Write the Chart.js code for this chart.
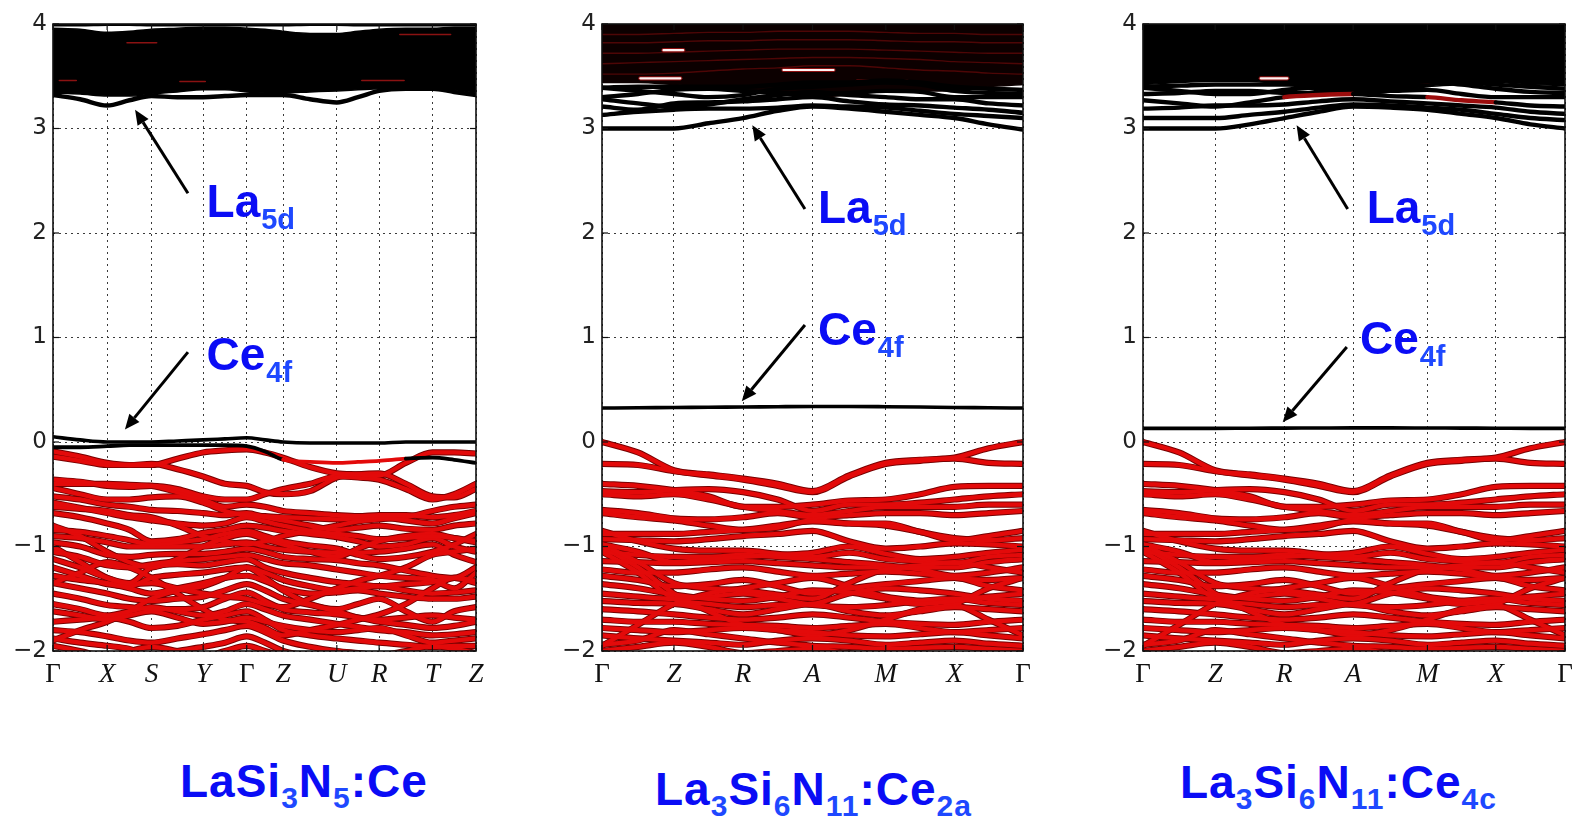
<!DOCTYPE html>
<html>
<head>
<meta charset="utf-8">
<title>Band structures of Ce-doped La–Si–N</title>
<script src="https://cdn.jsdelivr.net/npm/chart.js@4/dist/chart.umd.min.js"></script>
<style>
  html, body { margin: 0; padding: 0; background: #fff; }
  body { width: 1572px; height: 818px; overflow: hidden; position: relative;
         font-family: "Liberation Sans", Arial, sans-serif; }
  .panel { position: absolute; top: 0; }
  .title { position: absolute; color: #0a0cf5; font-weight: bold; font-size: 46px;
           line-height: 46px; letter-spacing: 1px; white-space: nowrap; }
  .title sub { font-size: 30px; vertical-align: -11px; line-height: 0; color: #1e48ff; }
</style>
</head>
<body>
<div class="panel" id="w1"><canvas id="c1"></canvas></div>
<div class="panel" id="w2"><canvas id="c2"></canvas></div>
<div class="panel" id="w3"><canvas id="c3"></canvas></div>

<div class="title" style="left:180px; top:758px;">LaSi<sub>3</sub>N<sub>5</sub>:Ce</div>
<div class="title" style="left:655px; top:766px;">La<sub>3</sub>Si<sub>6</sub>N<sub>11</sub>:Ce<sub>2a</sub></div>
<div class="title" style="left:1180px; top:759px;">La<sub>3</sub>Si<sub>6</sub>N<sub>11</sub>:Ce<sub>4c</sub></div>

<script>
// ---------- k-paths (path length scaled to 0..100) ----------
const kLabels1 = ['Γ', 'X', 'S', 'Y', 'Γ', 'Z', 'U', 'R', 'T', 'Z'];
const kPos1    = [0, 12.8, 23.3, 35.5, 45.8, 54.4, 67.1, 77.1, 89.7, 100];
const kGrid1   = [0, 6.4, 12.8, 18.05, 23.3, 29.4, 35.5, 40.65, 45.8, 50.1, 54.4,
                  60.75, 67.1, 72.1, 77.1, 83.4, 89.7, 94.85, 100];

const kLabels2 = ['Γ', 'Z', 'R', 'A', 'M', 'X', 'Γ'];
const kPos2    = [0, 17.1, 33.5, 50, 67.4, 83.7, 100];
const kGrid2   = [0, 8.55, 17.1, 25.3, 33.5, 41.75, 50, 58.7, 67.4, 75.55, 83.7, 91.85, 100];

const kLabels3 = ['Γ', 'Z', 'R', 'A', 'M', 'X', 'Γ'];
const kPos3    = [0, 17.1, 33.5, 49.8, 67.4, 83.6, 100];
const kGrid3   = [0, 8.55, 17.1, 25.3, 33.5, 41.65, 49.8, 58.6, 67.4, 75.5, 83.6, 91.8, 100];

const energyTicks = [-2, -1, 0, 1, 2, 3, 4];

// ---------- LaSi3N5:Ce (eV, on kGrid1) ----------
const ce4f1 = [0.05, 0.02, 0.0, 0.0, 0.0, 0.01, 0.02, 0.03, 0.04, 0.02, 0.0,
               -0.01, -0.01, -0.01, -0.01, 0.0, 0.0, 0.0, 0.0];
const vbTop1 = [-0.05, -0.05, -0.04, -0.03, -0.03, -0.03, -0.03, -0.03, -0.04, -0.09,
                -0.17, -0.19, -0.20, -0.19, -0.18, -0.16, -0.15, -0.17, -0.20];
const vbTop1RedSegs = [0,0,0,0,0,0,0,0,0,0,1,1,1,1,1,0,0,0];   // host-like stretch of the top band
const vb1 = [
  [-0.09,-0.14,-0.20,-0.22,-0.22,-0.16,-0.10,-0.08,-0.07,-0.10,-0.15,-0.24,-0.30,-0.31,-0.32,-0.20,-0.10,-0.10,-0.11],
  [-0.14,-0.18,-0.22,-0.22,-0.21,-0.26,-0.33,-0.40,-0.42,-0.48,-0.50,-0.47,-0.34,-0.31,-0.30,-0.40,-0.52,-0.53,-0.45],
  [-0.36,-0.38,-0.42,-0.43,-0.42,-0.45,-0.52,-0.55,-0.55,-0.50,-0.45,-0.40,-0.33,-0.34,-0.36,-0.45,-0.55,-0.50,-0.40],
  [-0.40,-0.40,-0.40,-0.41,-0.42,-0.48,-0.55,-0.62,-0.60,-0.62,-0.66,-0.68,-0.70,-0.71,-0.70,-0.70,-0.72,-0.70,-0.66],
  [-0.44,-0.50,-0.55,-0.55,-0.53,-0.52,-0.58,-0.66,-0.70,-0.71,-0.72,-0.73,-0.74,-0.73,-0.72,-0.75,-0.78,-0.73,-0.68],
  [-0.52,-0.55,-0.60,-0.62,-0.65,-0.66,-0.68,-0.70,-0.68,-0.72,-0.75,-0.80,-0.84,-0.82,-0.80,-0.83,-0.84,-0.80,-0.78],
  [-0.58,-0.63,-0.68,-0.72,-0.75,-0.78,-0.80,-0.78,-0.72,-0.76,-0.80,-0.85,-0.88,-0.90,-0.93,-0.92,-0.90,-0.92,-0.95],
  [-0.68,-0.72,-0.78,-0.84,-0.95,-0.93,-0.87,-0.84,-0.80,-0.82,-0.85,-0.88,-0.91,-0.95,-1.00,-0.98,-0.92,-1.00,-1.05],
  [-0.84,-0.86,-0.90,-0.94,-0.98,-0.96,-0.93,-0.88,-0.85,-0.90,-0.95,-0.99,-1.02,-1.08,-1.12,-1.10,-1.05,-0.98,-0.88],
  [-0.90,-0.92,-0.96,-1.00,-1.00,-1.00,-1.00,-0.98,-0.96,-1.00,-1.03,-1.05,-1.06,-1.06,-1.05,-1.02,-0.98,-1.08,-1.15],
  [-0.96,-1.00,-1.08,-1.10,-1.08,-1.07,-1.07,-1.05,-1.02,-1.05,-1.10,-1.12,-1.13,-1.16,-1.18,-1.23,-1.28,-1.30,-1.20],
  [-1.05,-1.10,-1.18,-1.20,-1.17,-1.14,-1.12,-1.10,-1.08,-1.12,-1.16,-1.18,-1.22,-1.25,-1.28,-1.30,-1.32,-1.40,-1.25],
  [-1.12,-1.20,-1.30,-1.35,-1.20,-1.17,-1.18,-1.15,-1.12,-1.20,-1.25,-1.30,-1.34,-1.36,-1.38,-1.36,-1.34,-1.30,-1.33],
  [-1.20,-1.28,-1.36,-1.38,-1.30,-1.27,-1.25,-1.22,-1.20,-1.25,-1.32,-1.38,-1.42,-1.40,-1.38,-1.42,-1.45,-1.44,-1.42],
  [-1.28,-1.32,-1.35,-1.40,-1.45,-1.40,-1.35,-1.30,-1.28,-1.33,-1.40,-1.45,-1.44,-1.42,-1.45,-1.48,-1.50,-1.50,-1.48],
  [-1.35,-1.40,-1.45,-1.50,-1.52,-1.50,-1.48,-1.42,-1.36,-1.42,-1.50,-1.56,-1.62,-1.68,-1.70,-1.68,-1.66,-1.68,-1.70],
  [-1.45,-1.50,-1.56,-1.58,-1.60,-1.60,-1.58,-1.50,-1.44,-1.52,-1.60,-1.63,-1.65,-1.68,-1.72,-1.75,-1.78,-1.76,-1.72],
  [-1.55,-1.60,-1.66,-1.62,-1.58,-1.62,-1.66,-1.62,-1.55,-1.60,-1.66,-1.70,-1.74,-1.77,-1.80,-1.82,-1.85,-1.84,-1.82],
  [-1.62,-1.66,-1.70,-1.66,-1.62,-1.68,-1.74,-1.72,-1.68,-1.72,-1.76,-1.80,-1.82,-1.80,-1.78,-1.85,-1.92,-1.90,-1.88],
  [-1.72,-1.70,-1.68,-1.72,-1.78,-1.76,-1.70,-1.66,-1.62,-1.70,-1.80,-1.85,-1.88,-1.90,-1.92,-1.94,-1.96,-1.95,-1.95],
  [-1.80,-1.82,-1.86,-1.90,-1.92,-1.88,-1.84,-1.80,-1.76,-1.82,-1.90,-1.96,-2.00,-2.02,-2.04,-2.00,-1.95,-1.98,-2.02],
  [-1.88,-1.92,-1.95,-1.98,-2.05,-2.00,-1.96,-1.92,-1.86,-1.92,-2.00,-2.05,-2.10,-2.10,-2.10,-2.10,-2.10,-2.10,-2.10],
  [-1.95,-2.00,-2.05,-2.00,-1.96,-2.00,-2.05,-2.00,-1.95,-2.00,-2.05,-2.10,-2.10,-2.10,-2.10,-2.10,-2.10,-2.10,-2.10],
  [-0.80,-0.90,-1.05,-1.15,-1.20,-1.12,-1.00,-0.92,-0.88,-0.93,-0.98,-1.05,-1.10,-1.02,-0.95,-0.90,-0.88,-0.92,-0.96],
  [-1.00,-1.15,-1.30,-1.36,-1.35,-1.40,-1.45,-1.48,-1.50,-1.55,-1.58,-1.50,-1.40,-1.33,-1.28,-1.20,-1.08,-1.05,-1.02],
  [-0.62,-0.64,-0.66,-0.70,-0.72,-0.80,-0.90,-0.95,-0.98,-0.95,-0.90,-0.85,-0.80,-0.76,-0.74,-0.72,-0.66,-0.62,-0.60],
  [-1.35,-1.25,-1.15,-1.20,-1.30,-1.45,-1.60,-1.70,-1.72,-1.78,-1.85,-1.80,-1.75,-1.70,-1.65,-1.55,-1.40,-1.30,-1.35],
  [-1.90,-1.80,-1.72,-1.62,-1.50,-1.42,-1.38,-1.30,-1.20,-1.30,-1.42,-1.55,-1.60,-1.55,-1.50,-1.62,-1.72,-1.62,-1.58]
];
const cbLow1   = [3.32, 3.28, 3.22, 3.27, 3.31, 3.30, 3.30, 3.31, 3.32, 3.32, 3.32,
                  3.28, 3.25, 3.30, 3.36, 3.38, 3.38, 3.35, 3.32];
const cbDenseLo1 = [3.34, 3.33, 3.31, 3.31, 3.33, 3.35, 3.37, 3.37, 3.35, 3.34, 3.34,
                    3.35, 3.36, 3.37, 3.38, 3.39, 3.39, 3.37, 3.34];
const cbDenseHi1 = [3.96, 3.95, 3.92, 3.93, 3.95, 3.96, 3.97, 3.97, 3.96, 3.95, 3.93,
                    3.91, 3.91, 3.93, 3.95, 3.96, 3.96, 3.97, 3.97];
const cbTop1   = [3.99, 3.99, 3.995, 3.995, 3.99, 3.99, 3.99, 3.99, 3.99, 3.99, 3.99,
                  3.995, 3.995, 3.99, 3.99, 3.99, 3.99, 3.99, 3.99];
// faint Ce-weighted streaks inside the conduction manifold: [k start, k end, energy]
const streaks1 = [[17.5, 24.5, 3.82], [1.5, 5.5, 3.46], [73.0, 83.0, 3.46], [82.0, 94.0, 3.90], [30.0, 36.0, 3.45]];

// ---------- La3Si6N11 host valence bands (shared by both Ce sites, on kGrid2 / kGrid3) ----------
const vbLa3Si6N11 = [
  [0.00,-0.10,-0.27,-0.31,-0.35,-0.40,-0.47,-0.32,-0.20,-0.17,-0.15,-0.06,0.00],
  [-0.21,-0.22,-0.28,-0.32,-0.36,-0.42,-0.48,-0.33,-0.21,-0.18,-0.16,-0.20,-0.21],
  [-0.40,-0.42,-0.46,-0.52,-0.62,-0.62,-0.60,-0.56,-0.55,-0.50,-0.43,-0.42,-0.42],
  [-0.47,-0.48,-0.46,-0.45,-0.48,-0.55,-0.66,-0.60,-0.60,-0.58,-0.55,-0.52,-0.50],
  [-0.50,-0.52,-0.50,-0.55,-0.62,-0.66,-0.70,-0.66,-0.62,-0.62,-0.62,-0.60,-0.60],
  [-0.65,-0.68,-0.73,-0.74,-0.72,-0.68,-0.72,-0.70,-0.68,-0.68,-0.70,-0.68,-0.66],
  [-0.68,-0.72,-0.75,-0.80,-0.84,-0.82,-0.75,-0.78,-0.80,-0.86,-0.94,-0.90,-0.85],
  [-0.88,-0.88,-0.88,-0.86,-0.84,-0.80,-0.76,-0.78,-0.78,-0.86,-0.92,-0.94,-0.92],
  [-0.93,-0.94,-0.95,-0.93,-0.90,-0.88,-0.85,-0.95,-1.02,-1.00,-0.97,-0.98,-1.00],
  [-0.98,-1.05,-1.15,-1.12,-1.10,-1.08,-1.06,-1.00,-1.07,-1.12,-1.10,-1.06,-1.03],
  [-0.98,-1.15,-1.35,-1.40,-1.42,-1.46,-1.50,-1.35,-1.22,-1.20,-1.20,-1.15,-1.12],
  [-1.05,-1.08,-1.10,-1.10,-1.08,-1.10,-1.12,-1.15,-1.18,-1.22,-1.28,-1.25,-1.20],
  [-1.14,-1.15,-1.16,-1.15,-1.14,-1.16,-1.18,-1.20,-1.20,-1.18,-1.15,-1.20,-1.25],
  [-1.22,-1.25,-1.25,-1.22,-1.20,-1.24,-1.28,-1.26,-1.24,-1.26,-1.30,-1.32,-1.30],
  [-1.28,-1.32,-1.38,-1.36,-1.32,-1.38,-1.45,-1.40,-1.36,-1.33,-1.30,-1.38,-1.42],
  [-1.36,-1.40,-1.46,-1.50,-1.52,-1.48,-1.42,-1.44,-1.50,-1.55,-1.52,-1.48,-1.45],
  [-1.45,-1.48,-1.50,-1.48,-1.45,-1.50,-1.56,-1.58,-1.56,-1.52,-1.50,-1.54,-1.56],
  [-1.52,-1.54,-1.55,-1.60,-1.65,-1.60,-1.55,-1.62,-1.66,-1.62,-1.58,-1.60,-1.62],
  [-1.60,-1.62,-1.65,-1.68,-1.70,-1.68,-1.65,-1.68,-1.72,-1.74,-1.75,-1.72,-1.70],
  [-1.70,-1.72,-1.72,-1.74,-1.75,-1.76,-1.78,-1.76,-1.74,-1.78,-1.82,-1.80,-1.78],
  [-1.78,-1.80,-1.82,-1.80,-1.78,-1.80,-1.82,-1.85,-1.86,-1.84,-1.82,-1.85,-1.88],
  [-1.85,-1.88,-1.90,-1.92,-1.94,-1.90,-1.88,-1.90,-1.94,-1.92,-1.90,-1.93,-1.95],
  [-1.94,-1.90,-1.80,-1.84,-1.88,-1.92,-1.95,-1.96,-1.98,-1.97,-1.96,-1.98,-2.00],
  [-2.00,-1.96,-1.92,-1.96,-2.02,-2.00,-1.98,-2.02,-2.05,-2.05,-2.05,-2.05,-2.05],
  [-1.05,-1.25,-1.50,-1.55,-1.58,-1.56,-1.55,-1.45,-1.40,-1.42,-1.45,-1.50,-1.52],
  [-0.85,-0.95,-1.02,-1.04,-1.04,-1.07,-1.10,-1.06,-1.12,-1.14,-1.16,-1.10,-1.08],
  [-1.00,-1.20,-1.45,-1.62,-1.75,-1.80,-1.85,-1.80,-1.70,-1.60,-1.55,-1.40,-1.30],
  [-1.95,-1.75,-1.55,-1.45,-1.40,-1.35,-1.30,-1.38,-1.48,-1.52,-1.55,-1.70,-1.85]
];

// ---------- La3Si6N11:Ce2a ----------
const ce4f2 = [0.325, 0.328, 0.33, 0.333, 0.335, 0.338, 0.34, 0.34, 0.338, 0.335, 0.33, 0.328, 0.325];
const cb2 = [
  [3.00,3.00,3.00,3.05,3.10,3.17,3.21,3.19,3.16,3.13,3.10,3.04,2.99],
  [3.13,3.16,3.18,3.19,3.19,3.20,3.22,3.21,3.20,3.17,3.14,3.12,3.10],
  [3.21,3.18,3.24,3.25,3.26,3.28,3.30,3.26,3.23,3.22,3.20,3.18,3.15],
  [3.28,3.24,3.21,3.23,3.28,3.32,3.35,3.32,3.30,3.28,3.28,3.24,3.22],
  [3.30,3.33,3.37,3.38,3.36,3.34,3.33,3.34,3.36,3.35,3.30,3.30,3.30],
  [3.39,3.36,3.33,3.30,3.32,3.38,3.40,3.42,3.44,3.42,3.36,3.34,3.33],
  [3.39,3.40,3.40,3.40,3.40,3.42,3.44,3.44,3.46,3.44,3.40,3.38,3.37]
];
const cbDenseLo2 = [3.44, 3.44, 3.42, 3.40, 3.38, 3.33, 3.30, 3.32, 3.36, 3.36, 3.36, 3.40, 3.42];
const cbStreak2 = [
  [3.52,3.52,3.53,3.55,3.57,3.58,3.60,3.60,3.58,3.56,3.55,3.53,3.52],
  [3.62,3.63,3.64,3.65,3.66,3.67,3.68,3.68,3.67,3.66,3.64,3.63,3.62],
  [3.72,3.72,3.73,3.74,3.75,3.76,3.76,3.76,3.75,3.74,3.73,3.72,3.72],
  [3.82,3.82,3.83,3.84,3.84,3.85,3.85,3.85,3.84,3.83,3.83,3.82,3.82],
  [3.90,3.90,3.91,3.92,3.92,3.93,3.93,3.93,3.92,3.91,3.91,3.90,3.90]
];
// open gaps inside the dense conduction manifold: [k start, k end, energy]
const gaps2 = [[14.6, 19.3, 3.75], [9.1, 18.6, 3.48], [43.1, 55.0, 3.56], [60.6, 72.5, 3.45]];

// ---------- La3Si6N11:Ce4c ----------
const ce4f3 = [0.13, 0.13, 0.13, 0.132, 0.133, 0.134, 0.135, 0.135, 0.134, 0.133, 0.132, 0.13, 0.13];
const cb3 = [
  [3.00,3.00,3.00,3.04,3.10,3.16,3.21,3.20,3.18,3.14,3.10,3.04,3.00],
  [3.10,3.10,3.10,3.13,3.16,3.20,3.23,3.22,3.20,3.18,3.14,3.10,3.08],
  [3.19,3.20,3.22,3.22,3.23,3.26,3.28,3.26,3.24,3.22,3.20,3.16,3.14],
  [3.27,3.24,3.21,3.25,3.30,3.32,3.33,3.31,3.30,3.27,3.25,3.22,3.21],
  [3.33,3.34,3.36,3.36,3.34,3.34,3.35,3.36,3.37,3.33,3.30,3.30,3.30],
  [3.39,3.36,3.33,3.33,3.37,3.40,3.42,3.43,3.45,3.42,3.38,3.35,3.34],
  [3.40,3.41,3.42,3.42,3.42,3.43,3.45,3.46,3.48,3.45,3.42,3.40,3.38]
];
const cbRedSegs3 = [0, 0, 0, 0, 1, 1, 0, 0, 1, 1, 0, 0];   // Ce-weighted stretches of the 4th band
const cbDenseLo3 = [3.42, 3.44, 3.45, 3.45, 3.42, 3.36, 3.32, 3.35, 3.40, 3.42, 3.44, 3.42, 3.41];
const gaps3 = [[62.5, 72.7, 3.45], [27.9, 34.2, 3.48]];

// ---------- drawing helpers ----------
const RED = '#e30a0a', RED_EDGE = '#780000';

function pts(grid, arr) {
  return arr.map((e, i) => ({ x: grid[i], y: e }));
}

function line(data, color, width, order, extra) {
  return Object.assign({ data, borderColor: color, borderWidth: width, order,
                         fill: false, clip: 0, pointRadius: 0 }, extra || {});
}

function valenceSets(grid, bands) {
  const out = [];
  bands.forEach(b => out.push(line(pts(grid, b), RED_EDGE, 6.2, 7)));
  bands.forEach(b => out.push(line(pts(grid, b), RED, 4.3, 6)));
  return out;
}

function gapSets(gaps) {
  const out = [];
  gaps.forEach(g => {
    const d = [{ x: g[0], y: g[2] }, { x: g[1], y: g[2] }];
    out.push(line(d, '#8c1010', 4.2, 8.5));
    out.push(line(d, '#fff2f2', 2.2, 8));
  });
  return out;
}

function streakSets(streaks) {
  return streaks.map(g => line([{ x: g[0], y: g[2] }, { x: g[1], y: g[2] }], '#8a1212', 1.6, 8));
}

function drawArrow(ctx, x1, y1, x2, y2) {
  const a = Math.atan2(y2 - y1, x2 - x1), hl = 15, hw = 6.5;
  const bx = x2 - hl * Math.cos(a), by = y2 - hl * Math.sin(a);
  ctx.strokeStyle = '#000'; ctx.fillStyle = '#000'; ctx.lineWidth = 3;
  ctx.beginPath(); ctx.moveTo(x1, y1); ctx.lineTo(bx, by); ctx.stroke();
  ctx.beginPath();
  ctx.moveTo(x2, y2);
  ctx.lineTo(bx - hw * Math.sin(a), by + hw * Math.cos(a));
  ctx.lineTo(bx + hw * Math.sin(a), by - hw * Math.cos(a));
  ctx.closePath(); ctx.fill();
}

// frame, inward ticks and the orbital annotations
const framePlugin = {
  id: 'bandFrame',
  afterDatasetsDraw(chart, args, opts) {
    const { ctx, chartArea: a } = chart;
    const xs = chart.scales.x, ys = chart.scales.y;
    ctx.save();
    ctx.strokeStyle = '#111'; ctx.lineWidth = 1.2;
    const seg = (x1, y1, x2, y2) => { ctx.beginPath(); ctx.moveTo(x1, y1); ctx.lineTo(x2, y2); ctx.stroke(); };
    xs.ticks.forEach(t => {
      const px = xs.getPixelForValue(t.value);
      seg(px, a.top, px, a.top + 6); seg(px, a.bottom, px, a.bottom - 6);
    });
    ys.ticks.forEach(t => {
      const py = ys.getPixelForValue(t.value);
      seg(a.left, py, a.left + 6, py); seg(a.right, py, a.right - 6, py);
    });
    ctx.lineWidth = 1.6; ctx.strokeStyle = '#111';
    ctx.strokeRect(a.left, a.top, a.right - a.left, a.bottom - a.top);

    (opts.arrows || []).forEach(r => drawArrow(ctx,
      xs.getPixelForValue(r[0]), ys.getPixelForValue(r[1]),
      xs.getPixelForValue(r[2]), ys.getPixelForValue(r[3])));

    (opts.labels || []).forEach(l => {
      const px = xs.getPixelForValue(l.k), py = ys.getPixelForValue(l.e);
      ctx.textBaseline = 'alphabetic'; ctx.textAlign = 'left';
      ctx.font = 'bold 46px "Liberation Sans", Arial, sans-serif';
      ctx.fillStyle = '#0a0cf5';
      ctx.fillText(l.main, px, py);
      const w = ctx.measureText(l.main).width;
      ctx.font = 'bold 29px "Liberation Sans", Arial, sans-serif';
      ctx.fillStyle = '#1e48ff';
      ctx.fillText(l.sub, px + w + 1, py + 12);
    });
    ctx.restore();
  }
};

function makePanel(wrapId, canvasId, rect, kPos, kLabels, datasets, annot) {
  const axisW = 56, rightPad = 24, H = 700, xAxisH = 44;
  const wrap = document.getElementById(wrapId);
  const cv = document.getElementById(canvasId);
  const W = axisW + (rect.r - rect.l) + rightPad;
  cv.width = W; cv.height = H;
  cv.style.width = W + 'px'; cv.style.height = H + 'px';
  wrap.style.left = (rect.l - axisW) + 'px';
  wrap.style.width = W + 'px'; wrap.style.height = H + 'px';

  new Chart(cv, {
    type: 'line',
    data: { datasets },
    plugins: [framePlugin],
    options: {
      responsive: false, animation: false, devicePixelRatio: 1,
      layout: { padding: { left: 0, right: rightPad, top: rect.t, bottom: H - rect.b - xAxisH } },
      plugins: { legend: { display: false }, tooltip: { enabled: false }, bandFrame: annot },
      elements: { point: { radius: 0 },
                  line: { cubicInterpolationMode: 'monotone', borderCapStyle: 'round', borderJoinStyle: 'round' } },
      events: [],
      scales: {
        x: {
          type: 'linear', min: 0, max: 100,
          afterBuildTicks: s => { s.ticks = kPos.map(v => ({ value: v })); },
          afterFit: s => { s.height = xAxisH; },
          ticks: {
            autoSkip: false, maxRotation: 0, padding: 8, color: '#111',
            callback: (v, i) => kLabels[i],
            font: c => ({ family: '"Liberation Serif", "DejaVu Serif", serif', size: 27,
                          style: kLabels[c.index] === 'Γ' ? 'normal' : 'italic' })
          },
          grid: { color: '#3a3a3a', lineWidth: 1, drawTicks: false },
          border: { display: false, dash: [2, 4] }
        },
        y: {
          type: 'linear', min: -2, max: 4,
          afterBuildTicks: s => { s.ticks = energyTicks.map(v => ({ value: v })); },
          afterFit: s => { s.width = axisW; },
          ticks: {
            padding: 6, color: '#222',
            font: { family: '"DejaVu Sans", sans-serif', size: 23 },
            callback: v => (v < 0 ? '\u2212' + Math.abs(v) : String(v))
          },
          grid: { color: '#3a3a3a', lineWidth: 1, drawTicks: false },
          border: { display: false, dash: [2, 4] }
        }
      }
    }
  });
}

// ---------- panel 1: LaSi3N5:Ce ----------
(function () {
  const ds = [];
  const loIdx = ds.push(line(pts(kGrid1, cbDenseLo1), '#000', 1.5, 10)) - 1;
  ds.push(line(pts(kGrid1, cbDenseHi1), '#000', 1.5, 10,
               { fill: { target: loIdx }, backgroundColor: '#000' }));
  streakSets(streaks1).forEach(d => ds.push(d));
  ds.push(line(pts(kGrid1, cbTop1), '#000', 3, 5));
  ds.push(line(pts(kGrid1, cbLow1), '#000', 4.5, 5));
  valenceSets(kGrid1, vb1).forEach(d => ds.push(d));
  ds.push(line(pts(kGrid1, vbTop1), '#000', 3.8, 4,
               { segment: { borderColor: c => (vbTop1RedSegs[c.p0DataIndex] ? RED : undefined) } }));
  ds.push(line(pts(kGrid1, ce4f1), '#000', 3.6, 0));
  makePanel('w1', 'c1', { l: 53, r: 476, t: 24, b: 651 }, kPos1, kLabels1, ds, {
    arrows: [[31.9, 2.38, 19.4, 3.18], [31.9, 0.86, 17.0, 0.12]],
    labels: [{ k: 36.3, e: 2.15, main: 'La', sub: '5d' }, { k: 36.3, e: 0.69, main: 'Ce', sub: '4f' }]
  });
})();

// ---------- panel 2: La3Si6N11:Ce2a ----------
(function () {
  const ds = [];
  ds.push(line(pts(kGrid2, cbDenseLo2), '#0c0000', 1.5, 10, { fill: 'end', backgroundColor: '#0c0000' }));
  cbStreak2.forEach(s => ds.push(line(pts(kGrid2, s), '#4e0606', 1.4, 9)));
  gapSets(gaps2).forEach(d => ds.push(d));
  cb2.forEach(b => ds.push(line(pts(kGrid2, b), '#000', 4.4, 5)));
  valenceSets(kGrid2, vbLa3Si6N11).forEach(d => ds.push(d));
  ds.push(line(pts(kGrid2, ce4f2), '#000', 3.6, 0));
  makePanel('w2', 'c2', { l: 602, r: 1023, t: 24, b: 651 }, kPos2, kLabels2, ds, {
    arrows: [[48.2, 2.23, 35.7, 3.03], [48.2, 1.12, 33.2, 0.39]],
    labels: [{ k: 51.3, e: 2.10, main: 'La', sub: '5d' }, { k: 51.3, e: 0.93, main: 'Ce', sub: '4f' }]
  });
})();

// ---------- panel 3: La3Si6N11:Ce4c ----------
(function () {
  const ds = [];
  ds.push(line(pts(kGrid3, cbDenseLo3), '#000', 1.5, 10, { fill: 'end', backgroundColor: '#000' }));
  gapSets(gaps3).forEach(d => ds.push(d));
  cb3.forEach((b, j) => ds.push(line(pts(kGrid3, b), '#000', 4.4, 5,
    j === 3 ? { segment: { borderColor: c => (cbRedSegs3[c.p0DataIndex] ? '#9c0c0c' : undefined) } } : {})));
  valenceSets(kGrid3, vbLa3Si6N11).forEach(d => ds.push(d));
  ds.push(line(pts(kGrid3, ce4f3), '#000', 3.6, 0));
  makePanel('w3', 'c3', { l: 1143, r: 1565, t: 24, b: 651 }, kPos3, kLabels3, ds, {
    arrows: [[48.5, 2.23, 36.4, 3.03], [48.3, 0.91, 33.1, 0.19]],
    labels: [{ k: 53.0, e: 2.10, main: 'La', sub: '5d' }, { k: 51.4, e: 0.84, main: 'Ce', sub: '4f' }]
  });
})();
</script>
</body>
</html>
